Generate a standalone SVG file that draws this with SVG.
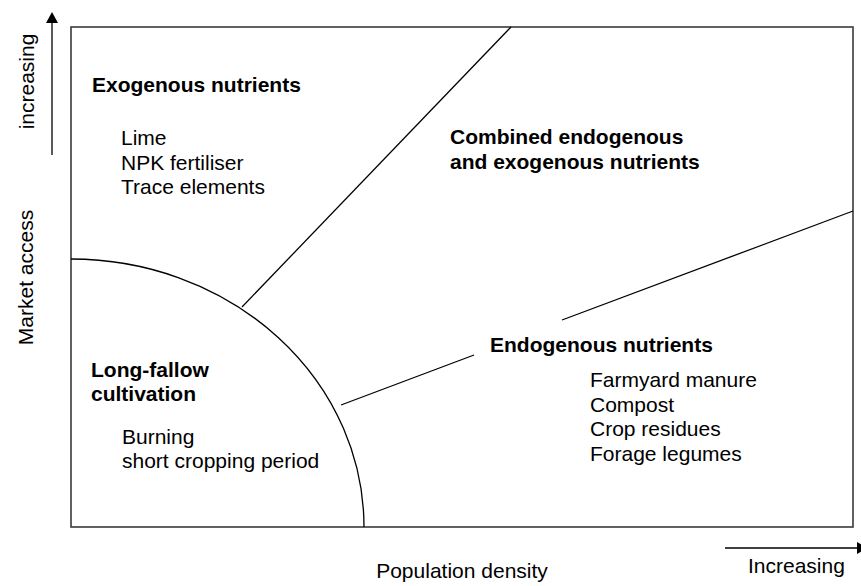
<svg xmlns="http://www.w3.org/2000/svg" width="861" height="586" viewBox="0 0 861 586">
<style>
text{font-family:"Liberation Sans",Arial,Helvetica,sans-serif;font-size:21px;fill:#000}
.b{font-weight:bold}
.ln{fill:none;stroke:#000;stroke-width:1.3}
.frame{fill:none;stroke:#3a3a3a;stroke-width:1.6}
</style>
<rect width="861" height="586" fill="#fff"/>
<g id="frame"><rect class="frame" x="71" y="27" width="782" height="500"/></g>
<g id="axes">
<line class="ln" x1="52" y1="155" x2="52" y2="22"/>
<polygon points="52,12 46,23 58,23" fill="#000"/>
<line class="ln" x1="725" y1="548" x2="858" y2="548"/>
<polygon points="868,548 857,542 857,554" fill="#000"/>
<text transform="translate(34,81.5) rotate(-90)" text-anchor="middle">increasing</text>
<text transform="translate(33,277.5) rotate(-90)" text-anchor="middle">Market access</text>
<text x="748" y="573">Increasing</text>
<text x="462" y="578" text-anchor="middle">Population density</text>
</g>
<g id="connectors">
<path class="ln" d="M71,259 A293,268 0 0 1 364,527"/>
<line class="ln" x1="242" y1="307" x2="511" y2="27"/>
<line class="ln" x1="341" y1="405" x2="474" y2="355"/>
<line class="ln" x1="562" y1="320" x2="853" y2="211"/>
</g>
<g id="exogenous">
<text class="b" x="92" y="91.5">Exogenous nutrients</text>
<text x="121" y="145">Lime</text>
<text x="121" y="169.5">NPK fertiliser</text>
<text x="121" y="194">Trace elements</text>
</g>
<g id="combined">
<text class="b" x="450" y="143.5">Combined endogenous</text>
<text class="b" x="450" y="168.5">and exogenous nutrients</text>
</g>
<g id="endogenous">
<text class="b" x="490" y="352">Endogenous nutrients</text>
<text x="590" y="387">Farmyard manure</text>
<text x="590" y="411.5">Compost</text>
<text x="590" y="436">Crop residues</text>
<text x="590" y="460.5">Forage legumes</text>
</g>
<g id="longfallow">
<text class="b" x="91" y="376.5">Long-fallow</text>
<text class="b" x="91" y="400.5">cultivation</text>
<text x="122" y="444">Burning</text>
<text x="122" y="468">short cropping period</text>
</g>
</svg>
